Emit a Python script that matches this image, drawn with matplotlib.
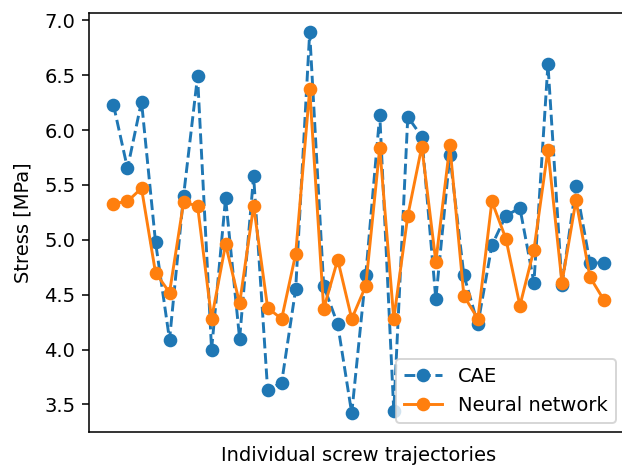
import matplotlib
matplotlib.use('Agg')
import matplotlib.pyplot as plt

# stress values for each screw trajectory
cae = [6.23, 5.65, 6.26, 4.98, 4.09, 5.40, 6.49, 4.00, 5.38, 4.10,
       5.58, 3.63, 3.70, 4.55, 6.89, 4.58, 4.23, 3.42, 4.68, 6.14,
       3.44, 6.12, 5.94, 4.46, 5.77, 4.68, 4.23, 4.95, 5.22, 5.29,
       4.61, 6.60, 4.59, 5.49, 4.79, 4.79]
nn = [5.33, 5.35, 5.47, 4.70, 4.52, 5.34, 5.31, 4.28, 4.96, 4.42,
      5.31, 4.38, 4.28, 4.87, 6.37, 4.37, 4.82, 4.28, 4.58, 5.84,
      4.28, 5.22, 5.85, 4.80, 5.86, 4.49, 4.28, 5.35, 5.01, 4.40,
      4.91, 5.82, 4.61, 5.36, 4.66, 4.45]

fig, ax = plt.subplots(figsize=(622 / 140, 467 / 140), dpi=140)
# the original is cropped on the right, so the axes runs past the edge
fig.subplots_adjust(left=0.143, right=1.0105, top=0.9715, bottom=0.0743)

ax.plot(cae, 'o--', label='CAE')
ax.plot(nn, 'o-', label='Neural network')
ax.set_xticks([])
ax.set_xlabel('Individual screw trajectories', labelpad=7)
ax.set_ylabel('Stress [MPa]', labelpad=6)
ax.legend(loc='lower right', bbox_to_anchor=(0.994, 0.0))

plt.savefig('out.png', dpi=140)
